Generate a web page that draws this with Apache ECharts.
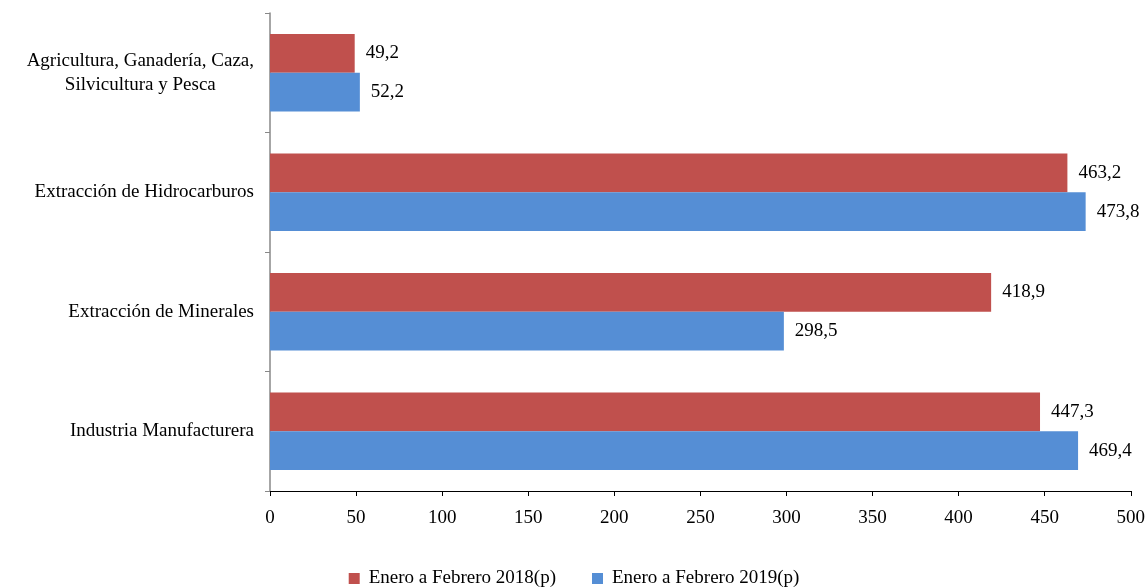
<!DOCTYPE html>
<html><head><meta charset="utf-8">
<script src="https://cdn.jsdelivr.net/npm/echarts@6/dist/echarts.min.js"></script>
<style>html,body{margin:0;padding:0;background:#fff}#c{width:1148px;height:588px}</style>
</head><body><div id="c"></div>
<script>
const categories = ["Agricultura, Ganadería, Caza,\nSilvicultura y Pesca", "Extracción de Hidrocarburos", "Extracción de Minerales", "Industria Manufacturera"];
const series2018 = [49.2, 463.2, 418.9, 447.3];
const series2019 = [52.2, 473.8, 298.5, 469.4];
const xTicks = [0, 50, 100, 150, 200, 250, 300, 350, 400, 450, 500];
const names = ["Enero a Febrero 2018(p)", "Enero a Febrero 2019(p)"];
const FONT = "Liberation Serif";
const FS = 19;
const chart = echarts.init(document.getElementById('c'));
const lbl = {show:true, position:'right', distance:11, color:'#000', fontFamily:FONT, fontSize:FS,
  formatter: p => p.value.toFixed(1).replace('.', ',')};
chart.setOption({
  animation:false,
  grid:{left:270, right:16, top:13, bottom:97},
  legend:{bottom:-5, left:'center', itemWidth:11, itemHeight:11, itemGap:36, icon:'rect',
    textStyle:{fontFamily:FONT, fontSize:FS, color:'#000', padding:[0,0,0,4]}, data:names},
  xAxis:{type:'value', min:xTicks[0], max:xTicks[xTicks.length-1], interval:50,
    splitLine:{show:false},
    axisLine:{show:true, lineStyle:{color:'#000', width:1}},
    axisTick:{show:true, length:5, lineStyle:{color:'#000'}},
    axisLabel:{color:'#000', fontFamily:FONT, fontSize:FS, margin:18}},
  yAxis:{type:'category', inverse:true, data:categories,
    axisLine:{show:true, lineStyle:{color:'#888', width:1.5}},
    axisTick:{show:true, length:5, lineStyle:{color:'#888'}},
    axisLabel:{color:'#000', fontFamily:FONT, fontSize:FS, margin:16, lineHeight:24,
      formatter: v => '{c|' + v.split('\n').join('}\n{c|') + '}',
      rich:{c:{align:'center', fontFamily:FONT, fontSize:FS, color:'#000', lineHeight:24}}}},
  series:[
    {name:names[0], type:'bar', data:series2018, barGap:'0%', barCategoryGap:'35%',
      itemStyle:{color:'#C0504D'}, label:lbl},
    {name:names[1], type:'bar', data:series2019, barGap:'0%', barCategoryGap:'35%',
      itemStyle:{color:'#558ED5'}, label:lbl}
  ]
});
</script></body></html>
